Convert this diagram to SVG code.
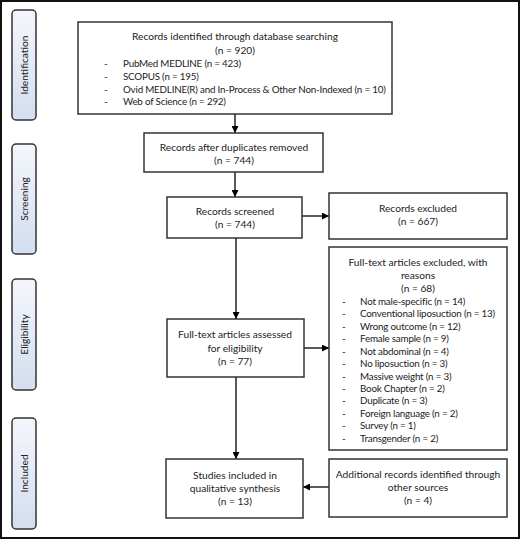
<svg xmlns="http://www.w3.org/2000/svg" width="520" height="539" viewBox="0 0 520 539">
<defs>
<linearGradient id="lg" x1="0" y1="0" x2="0" y2="1">
<stop offset="0" stop-color="#f4f6fb"/>
<stop offset="1" stop-color="#d3def0"/>
</linearGradient>
<marker id="ah" viewBox="0 0 10 10" refX="10" refY="5" markerWidth="7" markerHeight="7" orient="auto" markerUnits="userSpaceOnUse">
<path d="M0,0 L10,5 L0,10 z" fill="#000"/>
</marker>
<style>
.box{fill:#fff;stroke:#333;stroke-width:1.5}
.side{fill:url(#lg);stroke:#333;stroke-width:1.5}
text{font-family:Lato,"Liberation Sans",sans-serif;font-size:10.2px;fill:#222}
.c{text-anchor:middle}
.l{font-size:9.8px;letter-spacing:-0.2px}
.con{stroke:#000;stroke-width:1.3;fill:none;marker-end:url(#ah)}
</style>
</defs>
<rect x="1" y="1" width="518" height="537" fill="#fff" stroke="#111" stroke-width="2"/>
<g id="side-identification">
<rect class="side" x="12" y="10" width="24" height="110" rx="4"/>
<text class="c" transform="translate(28,65) rotate(-90)">Identification</text>
</g>
<g id="side-screening">
<rect class="side" x="12" y="144" width="24" height="110" rx="4"/>
<text class="c" transform="translate(28,199) rotate(-90)">Screening</text>
</g>
<g id="side-eligibility">
<rect class="side" x="12" y="279" width="24" height="111" rx="4"/>
<text class="c" transform="translate(28,334.5) rotate(-90)">Eligibility</text>
</g>
<g id="side-included">
<rect class="side" x="12" y="418" width="24" height="111" rx="4"/>
<text class="c" transform="translate(28,473.5) rotate(-90)">Included</text>
</g>
<g id="connectors">
<line class="con" x1="235" y1="114" x2="235" y2="133"/>
<line class="con" x1="235" y1="172" x2="235" y2="197"/>
<line class="con" x1="302" y1="216" x2="329" y2="216"/>
<line class="con" x1="236" y1="238" x2="236" y2="319"/>
<line class="con" x1="304" y1="348" x2="329" y2="348"/>
<line class="con" x1="236" y1="377" x2="236" y2="459"/>
<line class="con" x1="329" y1="487" x2="303" y2="487"/>
</g>
<g id="identified">
<rect class="box" x="78" y="22" width="314" height="92"/>
<text class="c" x="235" y="40">Records identified through database searching</text>
<text class="c" x="235" y="54">(n = 920)</text>
<text x="104" y="67">-</text><text class="l" x="123" y="67">PubMed MEDLINE (n = 423)</text>
<text x="104" y="80">-</text><text class="l" x="123" y="80">SCOPUS (n = 195)</text>
<text x="104" y="93">-</text><text class="l" x="123" y="93">Ovid MEDLINE(R) and In-Process &amp; Other Non-Indexed (n = 10)</text>
<text x="104" y="105">-</text><text class="l" x="123" y="105">Web of Science (n = 292)</text>
</g>
<g id="dedup">
<rect class="box" x="144" y="133" width="179" height="39"/>
<text class="c" x="234" y="151">Records after duplicates removed</text>
<text class="c" x="234" y="164">(n = 744)</text>
</g>
<g id="screened">
<rect class="box" x="167" y="197" width="135" height="41"/>
<text class="c" x="235" y="215">Records screened</text>
<text class="c" x="235" y="228">(n = 744)</text>
</g>
<g id="excluded">
<rect class="box" x="329" y="193" width="178" height="46"/>
<text class="c" x="418" y="212">Records excluded</text>
<text class="c" x="418" y="225">(n = 667)</text>
</g>
<g id="fulltext-excluded">
<rect class="box" x="329" y="247" width="178" height="203"/>
<text class="c" x="418" y="266">Full-text articles excluded, with</text>
<text class="c" x="418" y="279">reasons</text>
<text class="c" x="418" y="292">(n = 68)</text>
<text x="342" y="305">-</text><text class="l" x="360" y="305">Not male-specific (n = 14)</text>
<text x="342" y="317">-</text><text class="l" x="360" y="317">Conventional liposuction (n = 13)</text>
<text x="342" y="330">-</text><text class="l" x="360" y="330">Wrong outcome (n = 12)</text>
<text x="342" y="342">-</text><text class="l" x="360" y="342">Female sample (n = 9)</text>
<text x="342" y="355">-</text><text class="l" x="360" y="355">Not abdominal (n = 4)</text>
<text x="342" y="367">-</text><text class="l" x="360" y="367">No liposuction (n = 3)</text>
<text x="342" y="380">-</text><text class="l" x="360" y="380">Massive weight (n = 3)</text>
<text x="342" y="392">-</text><text class="l" x="360" y="392">Book Chapter (n = 2)</text>
<text x="342" y="404">-</text><text class="l" x="360" y="404">Duplicate (n = 3)</text>
<text x="342" y="417">-</text><text class="l" x="360" y="417">Foreign language (n = 2)</text>
<text x="342" y="429">-</text><text class="l" x="360" y="429">Survey (n = 1)</text>
<text x="342" y="442">-</text><text class="l" x="360" y="442">Transgender (n = 2)</text>
</g>
<g id="assessed">
<rect class="box" x="167" y="319" width="137" height="58"/>
<text class="c" x="235" y="338">Full-text articles assessed</text>
<text class="c" x="235" y="352">for eligibility</text>
<text class="c" x="235" y="365">(n = 77)</text>
</g>
<g id="included">
<rect class="box" x="166" y="459" width="137" height="59"/>
<text class="c" x="235" y="479">Studies included in</text>
<text class="c" x="235" y="492">qualitative synthesis</text>
<text class="c" x="235" y="505">(n = 13)</text>
</g>
<g id="additional">
<rect class="box" x="329" y="459" width="178" height="58"/>
<text class="c" x="418" y="478">Additional records identified through</text>
<text class="c" x="418" y="491">other sources</text>
<text class="c" x="418" y="504">(n = 4)</text>
</g>
</svg>
